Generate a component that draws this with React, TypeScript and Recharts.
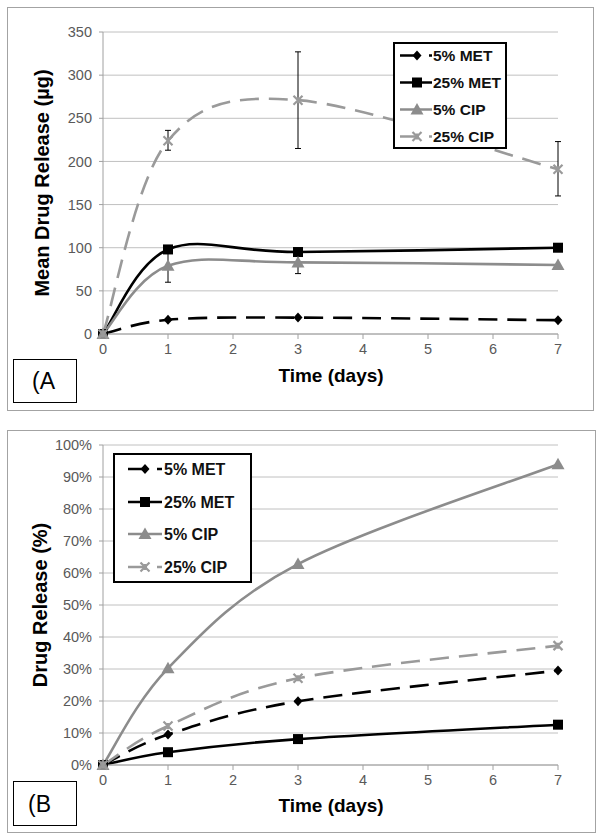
import React from 'react';
import { LineChart, Line, XAxis, YAxis, CartesianGrid, ErrorBar, Legend, Label } from 'recharts';

// ---------- data ----------
const days = [0, 1, 3, 7];
const dayTicks = [0, 1, 2, 3, 4, 5, 6, 7];

// Panel A: mean drug release (µg)
const met5Ug = [0, 16.5, 19, 16];
const met25Ug = [0, 98, 95, 100];
const cip5Ug = [0, 79, 83, 80];
const cip25Ug = [0, 224, 271, 191];
const cip5UgErr: ([number, number] | null)[] = [null, [19, 18], [13, 13], null];
const cip25UgErr: ([number, number] | null)[] = [null, [11, 12], [56, 56], [31, 32]];
const ugTicks = [0, 50, 100, 150, 200, 250, 300, 350];

// Panel B: drug release (%)
const met5Pct = [0, 9.5, 19.9, 29.5];
const met25Pct = [0, 4.0, 8.1, 12.6];
const cip5Pct = [0, 30.2, 62.8, 94.0];
const cip25Pct = [0, 12.2, 27.1, 37.3];
const pctTicks = [0, 10, 20, 30, 40, 50, 60, 70, 80, 90, 100];

const seriesNames = ['5% MET', '25% MET', '5% CIP', '25% CIP'];

const dataA = days.map((d, i) => ({
  day: d,
  met5: met5Ug[i],
  met25: met25Ug[i],
  cip5: cip5Ug[i],
  cip25: cip25Ug[i],
  cip5Err: cip5UgErr[i] ?? undefined,
  cip25Err: cip25UgErr[i] ?? undefined,
}));

const dataB = days.map((d, i) => ({
  day: d,
  met5: met5Pct[i],
  met25: met25Pct[i],
  cip5: cip5Pct[i],
  cip25: cip25Pct[i],
}));

// ---------- styles ----------
const FONT = '"Liberation Sans", Arial, sans-serif';
const styles = [
  { key: 'met5', color: '#000000', dash: '19 10', shape: 'diamond' },
  { key: 'met25', color: '#000000', dash: undefined, shape: 'square' },
  { key: 'cip5', color: '#8c8c8c', dash: undefined, shape: 'triangle' },
  { key: 'cip25', color: '#9a9a9a', dash: '19 10', shape: 'x' },
];

// Excel-like smoothed line (Catmull-Rom -> cubic Bezier)
const excelSmooth: any = (context: any) => {
  let pts: number[][] = [];
  return {
    areaStart() {},
    areaEnd() {},
    lineStart() {
      pts = [];
    },
    lineEnd() {
      const n = pts.length;
      if (!n) return;
      context.moveTo(pts[0][0], pts[0][1]);
      for (let i = 0; i < n - 1; i++) {
        const p0 = pts[i === 0 ? 0 : i - 1];
        const p1 = pts[i];
        const p2 = pts[i + 1];
        const p3 = pts[i + 2 < n ? i + 2 : n - 1];
        context.bezierCurveTo(
          p1[0] + (p2[0] - p0[0]) / 6,
          p1[1] + (p2[1] - p0[1]) / 6,
          p2[0] - (p3[0] - p1[0]) / 6,
          p2[1] - (p3[1] - p1[1]) / 6,
          p2[0],
          p2[1]
        );
      }
    },
    point(x: number, y: number) {
      pts.push([+x, +y]);
    },
  };
};

function Marker({ cx, cy, shape, color }: { cx: number; cy: number; shape: string; color: string }) {
  if (cx == null || cy == null) return null;
  switch (shape) {
    case 'diamond':
      return <path d={`M${cx},${cy - 5}L${cx + 4.5},${cy}L${cx},${cy + 5}L${cx - 4.5},${cy}Z`} fill={color} />;
    case 'square':
      return <rect x={cx - 5} y={cy - 5} width={10} height={10} fill={color} />;
    case 'triangle':
      return <path d={`M${cx},${cy - 6.5}L${cx + 6.5},${cy + 5}L${cx - 6.5},${cy + 5}Z`} fill={color} />;
    case 'x':
      return (
        <path
          d={`M${cx - 4.5},${cy - 4.5}L${cx + 4.5},${cy + 4.5}M${cx - 4.5},${cy + 4.5}L${cx + 4.5},${cy - 4.5}M${cx},${cy - 3}L${cx},${cy + 3}`}
          stroke={color}
          strokeWidth={2.2}
          fill="none"
        />
      );
    default:
      return null;
  }
}

const makeDot = (shape: string, color: string) => (p: any) =>
  <Marker key={`dot-${p.index}`} cx={p.cx} cy={p.cy} shape={shape} color={color} />;

function LegendBox({
  w, h, rows, x0, x1, mx, tx, fs,
}: { w: number; h: number; rows: number[]; x0: number; x1: number; mx: number; tx: number; fs: number }) {
  return (
    <svg width={w} height={h} style={{ display: 'block' }}>
      <rect x={1} y={1} width={w - 2} height={h - 2} fill="#ffffff" stroke="#000000" strokeWidth={2} />
      {styles.map((s, i) => (
        <g key={s.key}>
          <line x1={x0} x2={x1} y1={rows[i]} y2={rows[i]} stroke={s.color} strokeWidth={2.5} strokeDasharray={s.dash} />
          <Marker cx={mx} cy={rows[i]} shape={s.shape} color={s.color} />
          <text x={tx} y={rows[i]} dominantBaseline="central" fontFamily={FONT} fontWeight="bold" fontSize={fs} fill="#111">
            {seriesNames[i]}
          </text>
        </g>
      ))}
    </svg>
  );
}

const tickStyle = { fill: '#595959', fontSize: 14.5, fontFamily: FONT };
const axisStroke = '#a0a0a0';

function AxisTitleY({ x, y, text }: { x: number; y: number; text: string }) {
  return (
    <text x={x} y={y} transform={`rotate(-90 ${x} ${y})`} textAnchor="middle" dominantBaseline="central"
      fontFamily={FONT} fontWeight="bold" fontSize={20} fill="#000">
      {text}
    </text>
  );
}
function AxisTitleX({ x, y, text }: { x: number; y: number; text: string }) {
  return (
    <text x={x} y={y} textAnchor="middle" dominantBaseline="central" fontFamily={FONT} fontWeight="bold" fontSize={19} fill="#000">
      {text}
    </text>
  );
}

function renderLines(withErr: boolean) {
  return styles.map((s, i) => (
    <Line
      key={s.key}
      dataKey={s.key}
      name={seriesNames[i]}
      type={excelSmooth}
      stroke={s.color}
      strokeWidth={2.6}
      strokeDasharray={s.dash}
      dot={makeDot(s.shape, s.color)}
      activeDot={false}
      isAnimationActive={false}
    >
      {withErr && s.key === 'cip5' ? (
        <ErrorBar dataKey="cip5Err" width={3} strokeWidth={1} stroke="#000" direction="y" />
      ) : null}
      {withErr && s.key === 'cip25' ? (
        <ErrorBar dataKey="cip25Err" width={3} strokeWidth={1} stroke="#000" direction="y" />
      ) : null}
    </Line>
  ));
}

export default function App() {
  return (
    <div style={{ position: 'absolute', left: 0, top: 0, width: 602, height: 839, background: '#fff', fontFamily: FONT }}>
      {/* panel borders */}
      <div style={{ position: 'absolute', left: 7, top: 7, width: 587, height: 404, border: '1px solid #a3a3a3', boxSizing: 'border-box' }} />
      <div style={{ position: 'absolute', left: 7, top: 430, width: 589, height: 403, border: '1px solid #a3a3a3', boxSizing: 'border-box' }} />

      {/* Panel A */}
      <div style={{ position: 'absolute', left: 0, top: 0 }}>
        <LineChart width={602} height={420} data={dataA} margin={{ top: 32, right: 44, bottom: 56, left: 0 }}>
          <CartesianGrid vertical={false} stroke="#c0c0c0" strokeWidth={1} />
          <XAxis
            dataKey="day"
            type="number"
            domain={[0, 7]}
            ticks={dayTicks}
            height={30}
            tick={tickStyle}
            tickSize={5}
            tickMargin={5}
            axisLine={{ stroke: axisStroke }}
            tickLine={{ stroke: axisStroke }}
          >
            <Label content={() => <AxisTitleX x={331} y={375} text="Time (days)" />} />
          </XAxis>
          <YAxis
            type="number"
            domain={[0, 350]}
            ticks={ugTicks}
            width={103}
            tick={tickStyle}
            tickSize={4}
            tickMargin={7}
            axisLine={{ stroke: axisStroke }}
            tickLine={{ stroke: axisStroke }}
          >
            <Label content={() => <AxisTitleY x={42} y={183} text="Mean Drug Release (µg)" />} />
          </YAxis>
          {renderLines(true)}
          <Legend
            layout="vertical"
            align="center"
            verticalAlign="middle"
            wrapperStyle={{ left: 393, top: 42, width: 114, height: 107 }}
            content={() => <LegendBox w={114} h={107} rows={[13.5, 40.5, 67.5, 94.5]} x0={7} x1={39} mx={24} tx={40} fs={15.5} />}
          />
        </LineChart>
      </div>

      {/* Panel B */}
      <div style={{ position: 'absolute', left: 0, top: 420 }}>
        <LineChart width={602} height={419} data={dataB} margin={{ top: 25, right: 44, bottom: 44, left: 0 }}>
          <CartesianGrid vertical={false} stroke="#c0c0c0" strokeWidth={1} />
          <XAxis
            dataKey="day"
            type="number"
            domain={[0, 7]}
            ticks={dayTicks}
            height={30}
            tick={tickStyle}
            tickSize={5}
            tickMargin={5}
            axisLine={{ stroke: axisStroke }}
            tickLine={{ stroke: axisStroke }}
          >
            <Label content={() => <AxisTitleX x={331} y={385} text="Time (days)" />} />
          </XAxis>
          <YAxis
            type="number"
            domain={[0, 100]}
            ticks={pctTicks}
            tickFormatter={(v: number) => `${v}%`}
            width={103}
            tick={tickStyle}
            tickSize={4}
            tickMargin={7}
            axisLine={{ stroke: axisStroke }}
            tickLine={{ stroke: axisStroke }}
          >
            <Label content={() => <AxisTitleY x={40} y={185} text="Drug Release (%)" />} />
          </YAxis>
          {renderLines(false)}
          <Legend
            layout="vertical"
            align="center"
            verticalAlign="middle"
            wrapperStyle={{ left: 113, top: 33, width: 139, height: 130 }}
            content={() => <LegendBox w={139} h={130} rows={[16, 49, 81, 114]} x0={15} x1={49} mx={32} tx={51} fs={16} />}
          />
        </LineChart>
      </div>

      {/* panel tags */}
      <div style={{ position: 'absolute', left: 13, top: 359, width: 64, height: 44, border: '1.5px solid #000', boxSizing: 'border-box', background: '#fff' }}>
        <span style={{ position: 'absolute', left: 18, top: 8, fontSize: 23, lineHeight: '26px', fontFamily: FONT, color: '#000' }}>(A</span>
      </div>
      <div style={{ position: 'absolute', left: 13, top: 781, width: 64, height: 45, border: '1.5px solid #000', boxSizing: 'border-box', background: '#fff' }}>
        <span style={{ position: 'absolute', left: 14, top: 9, fontSize: 23, lineHeight: '26px', fontFamily: FONT, color: '#000' }}>(B</span>
      </div>
    </div>
  );
}
